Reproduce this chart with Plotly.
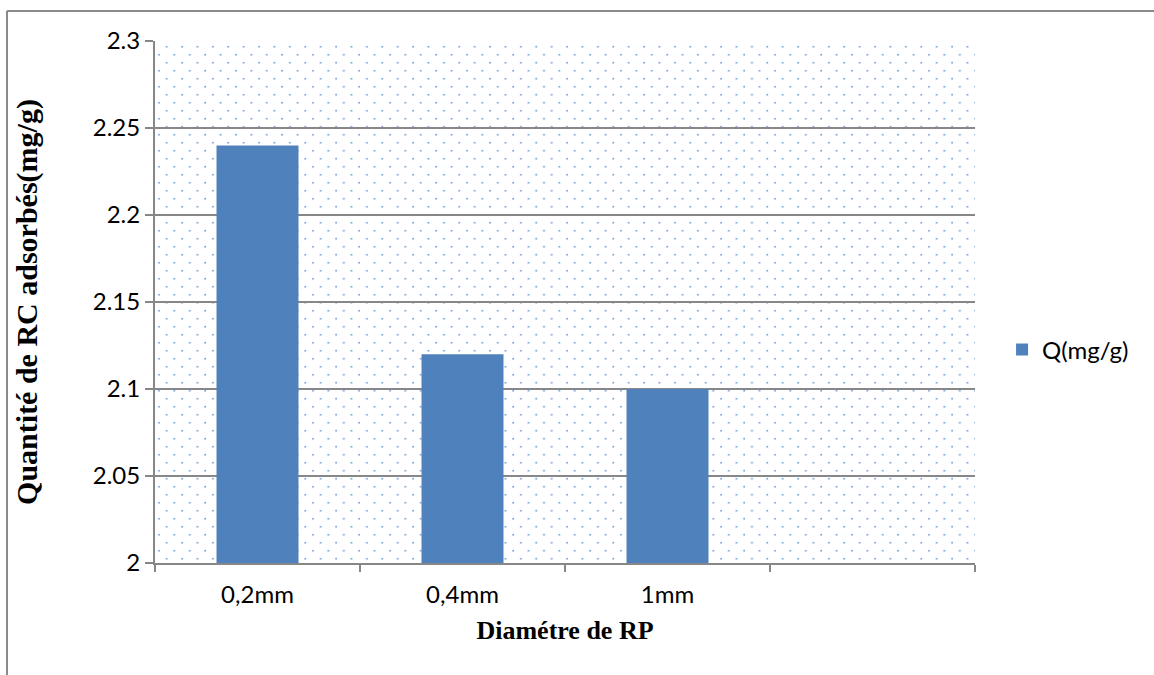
import base64
import plotly.graph_objects as go

# Data
categories = ["0,2mm", "0,4mm", "1mm", " "]
q_values = [2.24, 2.12, 2.10, None]
series_name = "Q(mg/g)"
y_ticks = [2, 2.05, 2.1, 2.15, 2.2, 2.25, 2.3]
y_tick_labels = ["2", "2.05", "2.1", "2.15", "2.2", "2.25", "2.3"]

W, H = 1154, 675
L, R, T, B = 155, 179, 41, 112
PW, PH = W - L - R, H - T - B

# Staggered dot texture for the plotting area
svg = (
    f'<svg xmlns="http://www.w3.org/2000/svg" width="{PW}" height="{PH}" '
    f'viewBox="0 0 {PW} {PH}" preserveAspectRatio="none">'
    '<defs><pattern id="d" width="15.4" height="16" patternUnits="userSpaceOnUse">'
    '<circle cx="11.7" cy="5.7" r="1.05" fill="#5b8ad0" fill-opacity="0.75"/>'
    '<circle cx="4" cy="13.7" r="1.05" fill="#5b8ad0" fill-opacity="0.75"/>'
    '</pattern></defs>'
    f'<rect x="0" y="0" width="{PW}" height="{PH}" fill="url(#d)"/></svg>'
)
svg_uri = "data:image/svg+xml;base64," + base64.b64encode(svg.encode()).decode()

fig = go.Figure()
fig.add_trace(go.Bar(
    x=categories,
    y=q_values,
    name=series_name,
    marker=dict(color="#4F81BD", line=dict(width=0)),
    showlegend=True,
))

grid = "#878787"
fig.update_layout(
    width=W, height=H,
    margin=dict(l=L, r=R, t=T, b=B, pad=0),
    paper_bgcolor="white",
    plot_bgcolor="white",
    bargap=0.6,
    font=dict(family="Lato", size=24, color="black"),
    images=[dict(
        source=svg_uri, xref="paper", yref="paper", x=0, y=1,
        sizex=1, sizey=1, xanchor="left", yanchor="top",
        sizing="stretch", layer="below",
    )],
    xaxis=dict(
        type="category",
        categoryorder="array", categoryarray=categories,
        range=[-0.5, 3.5],
        tickson="boundaries",
        ticks="outside", ticklen=7, tickwidth=2, tickcolor=grid,
        showline=True, linecolor=grid, linewidth=2,
        showgrid=False, zeroline=False,
        ticklabelstandoff=9,
        tickfont=dict(family="Lato", size=24),
        title=dict(text="<b>Diamétre de RP</b>", standoff=14,
                   font=dict(family="Liberation Serif", size=26)),
    ),
    yaxis=dict(
        range=[2, 2.3],
        tickvals=y_ticks, ticktext=y_tick_labels,
        ticks="outside", ticklen=8, tickwidth=2, tickcolor=grid,
        showline=True, linecolor=grid, linewidth=2,
        showgrid=True, gridcolor=grid, gridwidth=2,
        zeroline=False,
        tickfont=dict(family="Lato", size=24),
        title=dict(text="<b>Quantité de RC adsorbés(mg/g)</b>", standoff=46,
                   font=dict(family="Liberation Serif", size=30)),
    ),
    legend=dict(
        x=1.033, y=0.408, xanchor="left", yanchor="middle",
        font=dict(family="Lato", size=24),
        bgcolor="rgba(0,0,0,0)",
    ),
    shapes=[
        # outer chart frame (left and top edges visible)
        dict(type="line", xref="paper", yref="paper",
             x0=(7 - L) / PW, x1=(7 - L) / PW,
             y0=(H - B - 11) / PH, y1=(H - B - H - 5) / PH,
             line=dict(color="#8a8a8a", width=2)),
        dict(type="line", xref="paper", yref="paper",
             x0=(7 - L) / PW, x1=(W + 5 - L) / PW,
             y0=(H - B - 11) / PH, y1=(H - B - 11) / PH,
             line=dict(color="#8a8a8a", width=2)),
    ],
)

fig.write_html("out.html")
